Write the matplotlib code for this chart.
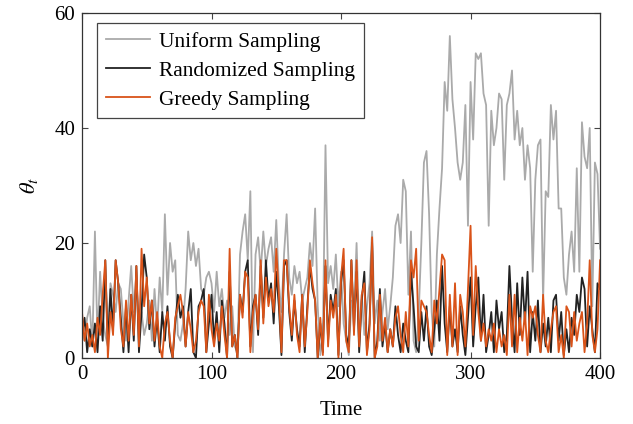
import numpy as np
import matplotlib
matplotlib.use("Agg")
import matplotlib.pyplot as plt

plt.rcParams['font.family'] = ['Liberation Serif', 'DejaVu Serif']
plt.rcParams['mathtext.fontset'] = 'stix'

time_step = 2
uniform = [
    5, 3, 7, 9, 2, 22, 3, 15, 7, 4,
    2, 13, 11, 8, 13, 12, 6, 3, 10, 16,
    8, 13, 6, 8, 4, 6, 10, 3, 12, 5,
    14, 8, 25, 11, 20, 15, 17, 4, 3, 6,
    12, 22, 17, 20, 16, 19, 12, 11, 14, 15,
    13, 8, 15, 9, 12, 7, 10, 4, 9, 2,
    1, 18, 22, 25, 17, 29, 1, 18, 21, 15,
    22, 16, 19, 21, 15, 24, 13, 8, 18, 25,
    14, 11, 16, 13, 15, 10, 12, 14, 20, 16,
    26, 9, 0.5, 4, 37, 13, 16, 12, 18, 9,
    15, 6, 3, 0.5, 10, 8, 20, 5, 11, 4,
    9, 13, 22, 6, 10, 3, 8, 12, 5, 9,
    14, 23, 25, 20, 31, 29, 11, 22, 3, 1,
    8, 20, 34, 36, 25, 8, 2, 18, 26, 33,
    48, 43, 56, 45, 40, 34, 31, 34, 44, 23,
    48, 38, 53, 52, 53, 46, 44, 23, 43, 37,
    40, 46, 45, 31, 44, 46, 50, 38, 43, 37,
    40, 31, 37, 33, 15, 31, 37, 38, 10, 29,
    28, 44, 38, 43, 26, 26, 14, 11, 18, 22,
    15, 33, 15, 41, 35, 33, 40, 9, 34, 32,
    19,
]
randomized = [
    4, 7, 1, 5, 2, 6, 1, 9, 3, 17,
    2, 12, 5, 17, 13, 7, 1, 9, 1, 11,
    3, 16, 1, 8, 18, 14, 5, 10, 2, 7,
    1, 8, 3, 9, 2, 0, 6, 11, 7, 9,
    2, 8, 12, 1, 0, 9, 10, 12, 1, 6,
    11, 3, 8, 1, 10, 6, 0, 15, 2, 4,
    0, 11, 8, 15, 17, 2, 9, 11, 4, 16,
    7, 17, 10, 13, 6, 15, 9, 0.5, 16, 17,
    8, 3, 10, 5, 2, 11, 1, 9, 16, 12,
    10, 0, 6, 1, 16, 3, 11, 8, 12, 0.5,
    13, 17, 4, 2, 17, 5, 15, 1, 10, 15,
    1, 6, 20, 0, 3, 12, 2, 6, 1, 5,
    2, 9, 4, 1, 6, 3, 1, 15, 9, 2,
    1, 8, 3, 9, 2, 0.5, 5, 10, 3, 16,
    6, 1, 9, 2, 5, 1, 9, 4, 0.5, 7,
    14, 2, 9, 14, 3, 11, 1, 4, 8, 1,
    10, 5, 8, 1, 4, 16, 7, 1, 13, 4,
    14, 6, 15, 1, 8, 3, 10, 1, 6, 2,
    7, 1, 10, 11, 3, 8, 0.5, 5, 1, 7,
    4, 11, 8, 14, 12, 2, 9, 5, 1, 13,
    12,
]
greedy = [
    8, 3, 6, 2, 4, 1, 7, 4, 11, 17,
    0, 8, 4, 17, 13, 5, 2, 10, 3, 11,
    4, 16, 2, 19, 9, 14, 6, 10, 3, 8,
    2, 0, 6, 8, 3, 0, 7, 9, 11, 8,
    2, 8, 5, 1, 3, 8, 10, 9, 1, 11,
    5, 2, 6, 3, 9, 4, 0, 19, 2, 4,
    0, 11, 7, 15, 14, 1, 8, 11, 5, 17,
    6, 14, 9, 12, 8, 19, 11, 1, 17, 17,
    9, 4, 11, 4, 1, 11, 2, 8, 17, 13,
    10, 0, 7, 0.5, 17, 2, 10, 7, 11, 0,
    14, 19, 3, 1, 17, 4, 17, 2, 11, 13,
    0.5, 5, 21, 0, 2, 11, 3, 7, 1, 5,
    2, 7, 9, 4, 1, 8, 2, 17, 14, 19,
    3, 10, 9, 8, 4, 1, 10, 6, 12, 18,
    17, 0.5, 11, 2, 13, 0.5, 11, 8, 2, 12,
    23, 4, 16, 8, 3, 6, 2, 5, 3, 6,
    1, 5, 2, 4, 0.5, 11, 2, 11, 1, 7,
    3, 8, 0.5, 9, 7, 9, 4, 1, 11, 3,
    1, 5, 8, 9, 1, 4, 0, 9, 8, 2,
    8, 3, 6, 8, 1, 6, 17, 4, 1, 5,
    17,
]
labels = ["Uniform Sampling", "Randomized Sampling", "Greedy Sampling"]
x_ticks = [0, 100, 200, 300, 400]
y_ticks = [0, 20, 40, 60]

t = np.arange(len(uniform)) * time_step

fig = plt.figure(figsize=(6.33, 4.24), dpi=100)
ax = fig.add_axes([0.1295, 0.1557, 0.8185, 0.8136])

ax.plot(t, uniform, color='#aaaaaa', lw=1.3, label=labels[0])
ax.plot(t, randomized, color='#222222', lw=1.3, label=labels[1])
ax.plot(t, greedy, color='#d95319', lw=1.3, label=labels[2])

ax.set_xlim(0, 400)
ax.set_ylim(0, 60)
ax.set_xticks(x_ticks)
ax.set_yticks(y_ticks)
ax.tick_params(direction='in', top=True, right=True, labelsize=15, length=4, width=0.8,
               color='#444444', pad=5)
for s in ax.spines.values():
    s.set_color('#333333')
    s.set_linewidth(0.9)

ax.set_xlabel('Time', fontsize=15, labelpad=12)
ax.set_ylabel(r'$\theta_t$', fontsize=16, labelpad=10)

leg = ax.legend(loc='upper left', bbox_to_anchor=(0.029, 0.97), borderaxespad=0,
                fontsize=15.4, handlelength=2.1, handletextpad=0.4, labelspacing=0.42,
                borderpad=0.4, frameon=True, fancybox=False, framealpha=1)
leg.get_frame().set_edgecolor('#444444')
leg.get_frame().set_linewidth(0.9)

fig.savefig('out.png', dpi=100)
